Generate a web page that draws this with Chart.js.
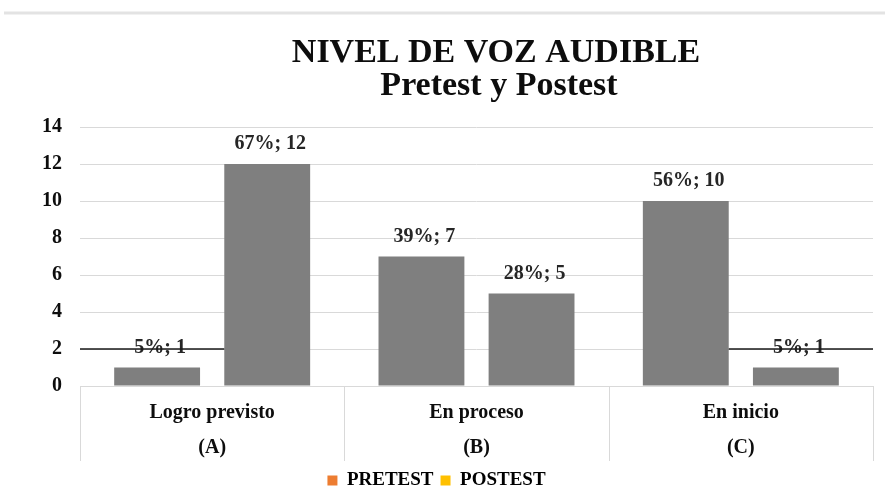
<!DOCTYPE html>
<html>
<head>
<meta charset="utf-8">
<script src="https://cdn.jsdelivr.net/npm/chart.js@4.4.1/dist/chart.umd.min.js"></script>
<style>
  html, body { margin: 0; padding: 0; background: #fff; }
  #wrap { width: 885px; height: 504px; }
</style>
</head>
<body>
<div id="wrap"><canvas id="c"></canvas></div>
<script>
const title = ["NIVEL DE VOZ AUDIBLE", "Pretest y Postest"];
const categories = [["Logro previsto", "(A)"], ["En proceso", "(B)"], ["En inicio", "(C)"]];
const seriesNames = ["PRETEST", "POSTEST"];
const pretest = [1, 7, 10];
const postest = [12, 5, 1];
const pretestPct = ["5%", "39%", "56%"];
const postestPct = ["67%", "28%", "5%"];
const yTicks = [0, 2, 4, 6, 8, 10, 12, 14];

const serif = "'Liberation Serif', 'Times New Roman', serif";
const gray = "#7f7f7f";
const legendColors = ["#ed7d31", "#ffc000"];

// titulo, etiquetas encima de cada barra, separadores del eje x, linea negra en y=2
const extras = {
    id: "extras",
    beforeDraw(chart) {
        const ctx = chart.ctx;
        ctx.save();
        ctx.strokeStyle = "#e3e3e3";
        ctx.lineWidth = 3;
        ctx.beginPath();
        ctx.moveTo(4, 13);
        ctx.lineTo(chart.width, 13);
        ctx.stroke();

        ctx.fillStyle = "#0d0d0d";
        ctx.font = "bold 34px " + serif;
        ctx.textAlign = "center";
        ctx.textBaseline = "middle";
        ctx.fillText(title[0], 496, 53);
        ctx.fillText(title[1], 499, 86);

        const x = chart.scales.x, area = chart.chartArea;
        const half = (x.getPixelForValue(1) - x.getPixelForValue(0)) / 2;
        ctx.strokeStyle = "#d9d9d9";
        ctx.lineWidth = 1;
        for (let i = 0; i <= categories.length; i++) {
            const px = Math.round(x.getPixelForValue(i) - half) + 0.5;
            ctx.beginPath();
            ctx.moveTo(px, area.bottom);
            ctx.lineTo(px, area.bottom + 75);
            ctx.stroke();
        }
        ctx.restore();
    },
    afterDatasetsDraw(chart) {
        const ctx = chart.ctx;
        const y = chart.scales.y, area = chart.chartArea;
        const pcts = [pretestPct, postestPct];
        ctx.save();
        ctx.font = "bold 20px " + serif;
        ctx.fillStyle = "#262626";
        ctx.textAlign = "center";
        ctx.textBaseline = "middle";
        chart.data.datasets.forEach((ds, d) => {
            chart.getDatasetMeta(d).data.forEach((bar, i) => {
                ctx.fillText(pcts[d][i] + "; " + ds.data[i], bar.x + 3, bar.y - 20);
            });
        });
        const a = chart.getDatasetMeta(1).data[0];
        const c = chart.getDatasetMeta(0).data[2];
        const py = y.getPixelForValue(2);
        ctx.strokeStyle = "#1a1a1a";
        ctx.lineWidth = 1.5;
        ctx.beginPath();
        ctx.moveTo(area.left, py);
        ctx.lineTo(a.x - a.width / 2, py);
        ctx.moveTo(c.x + c.width / 2, py);
        ctx.lineTo(area.right, py);
        ctx.stroke();
        ctx.restore();
    }
};

new Chart(document.getElementById("c").getContext("2d"), {
    type: "bar",
    data: {
        labels: categories,
        datasets: [
            { label: seriesNames[0], data: pretest, backgroundColor: gray },
            { label: seriesNames[1], data: postest, backgroundColor: gray }
        ]
    },
    options: {
        responsive: true,
        maintainAspectRatio: false,
        animation: false,
        categoryPercentage: 0.833,
        barPercentage: 0.78,
        layout: { padding: { left: 0, right: 12, top: 127, bottom: 4 } },
        plugins: {
            tooltip: { enabled: false },
            title: { display: false },
            legend: {
                position: "bottom",
                labels: {
                    color: "#0d0d0d",
                    font: { family: serif, size: 19, weight: "bold" },
                    boxWidth: 10,
                    boxHeight: 10,
                    padding: 7,
                    generateLabels: chart => chart.data.datasets.map((ds, i) => ({
                        text: ds.label,
                        fillStyle: legendColors[i],
                        strokeStyle: legendColors[i],
                        lineWidth: 0,
                        datasetIndex: i
                    }))
                }
            }
        },
        scales: {
            x: {
                grid: { display: false },
                border: { display: true, color: "#d9d9d9" },
                ticks: {
                    color: "#0d0d0d",
                    font: { family: serif, size: 20, weight: "bold", lineHeight: 1.75 },
                    padding: 1,
                    maxRotation: 0
                },
                afterFit: s => { s.height = 78; }
            },
            y: {
                min: 0,
                max: 14,
                afterBuildTicks: s => { s.ticks = yTicks.map(v => ({ value: v })); },
                grid: { color: "#d9d9d9", drawTicks: false },
                border: { display: false },
                ticks: {
                    color: "#0d0d0d",
                    font: { family: serif, size: 20, weight: "bold" },
                    padding: 18
                },
                afterFit: s => { s.width = 80; }
            }
        }
    },
    plugins: [extras]
});
</script>
</body>
</html>
